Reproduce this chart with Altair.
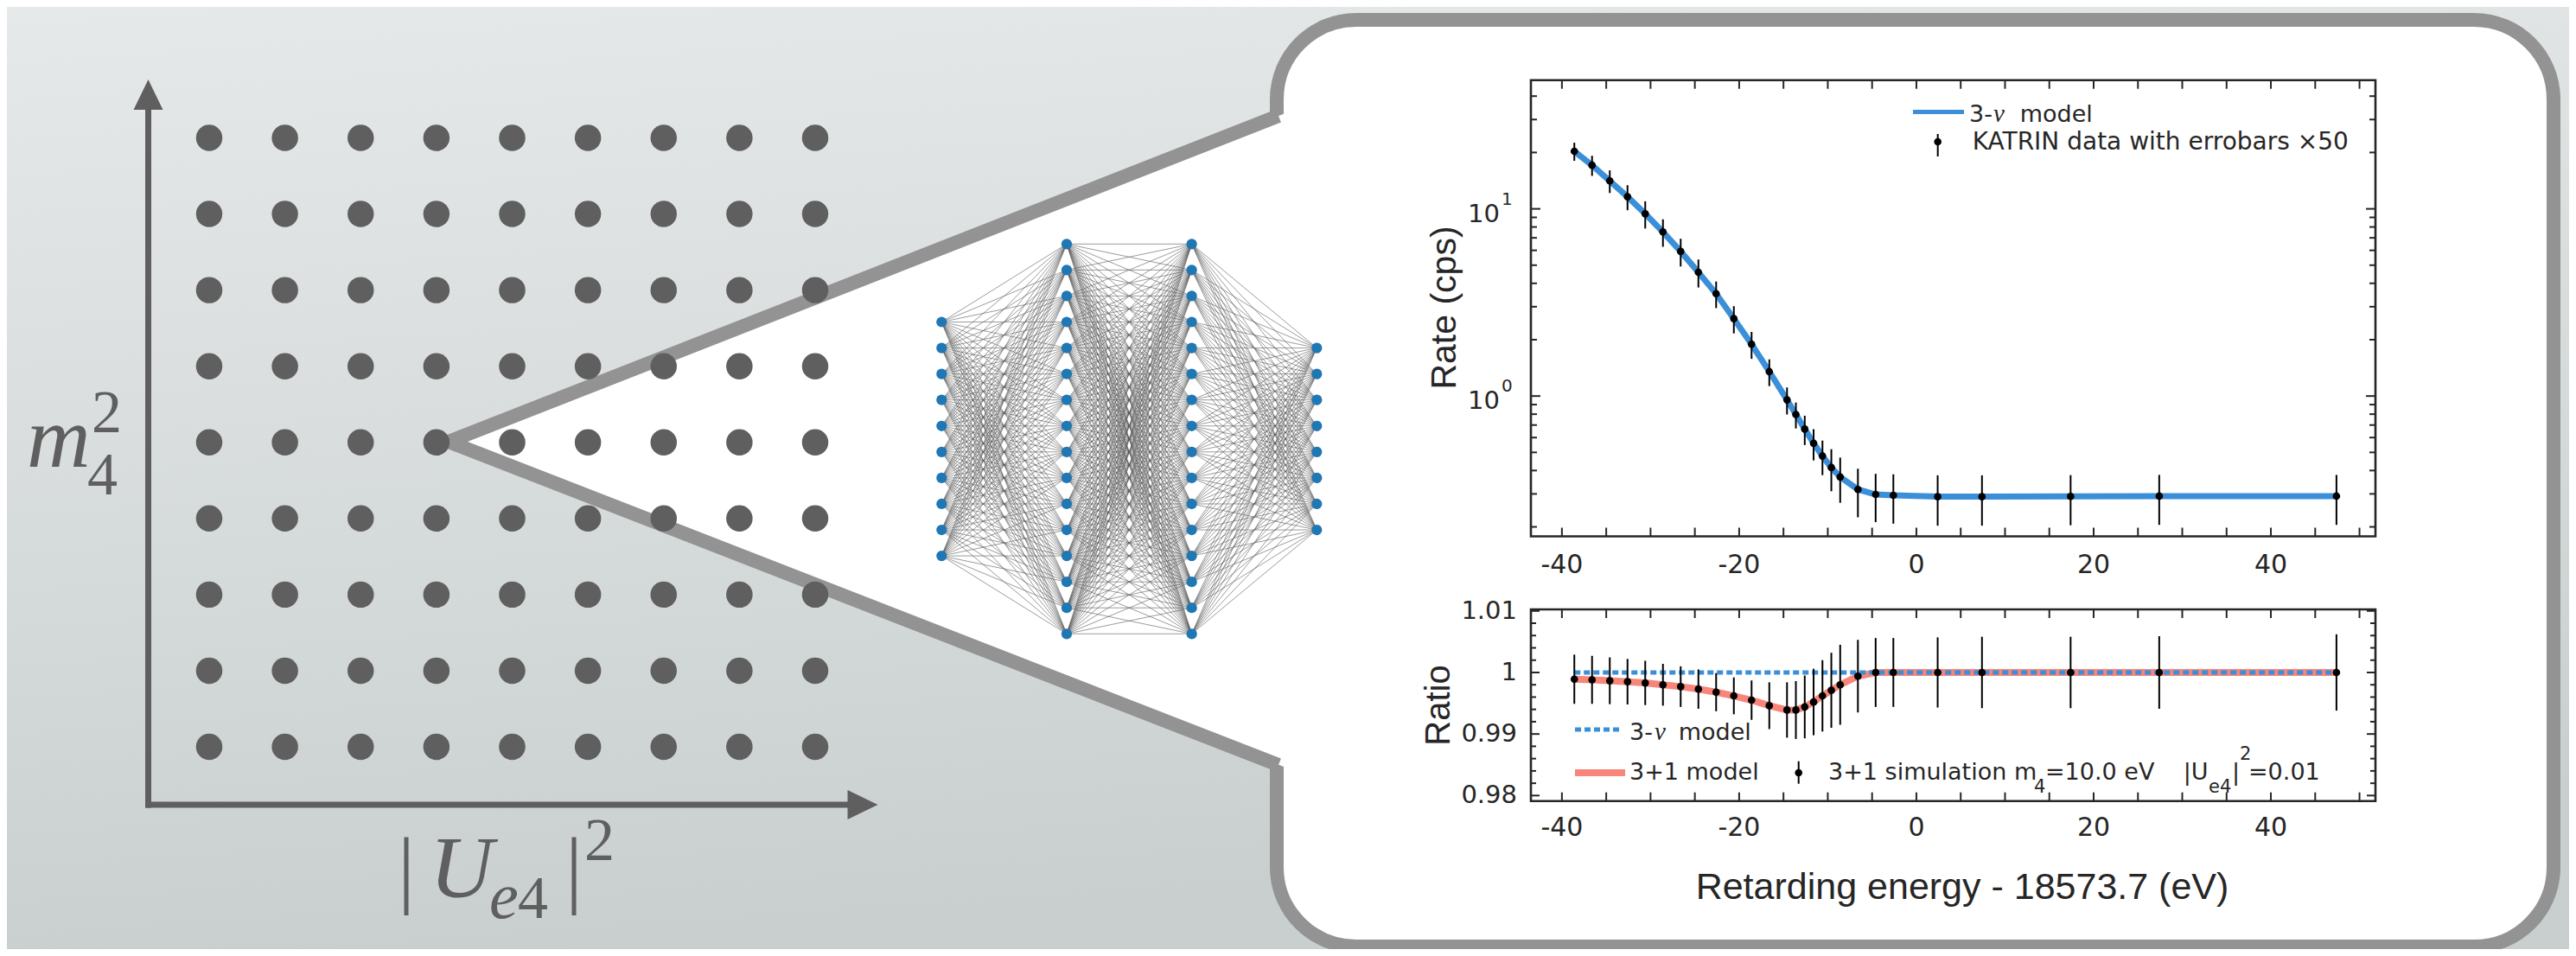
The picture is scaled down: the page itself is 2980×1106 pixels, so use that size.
import altair as alt
import pandas as pd

W, H = 2964, 1090
M = 8

def px(v):
    return v - M

# ---------------- data ----------------
energy = [-38.6, -36.6, -34.6, -32.6, -30.6, -28.6, -26.6, -24.6, -22.6, -20.6,
          -18.6, -16.6, -14.6, -13.6, -12.6, -11.6, -10.6, -9.6, -8.6, -6.6,
          -4.6, -2.6, 2.4, 7.4, 17.4, 27.4, 47.4]
rate = [20.3, 17.1, 14.1, 11.6, 9.41, 7.53, 5.92, 4.58, 3.52, 2.59,
        1.89, 1.35, 0.954, 0.797, 0.666, 0.559, 0.478, 0.415, 0.369, 0.317,
        0.298, 0.295, 0.290, 0.290, 0.291, 0.292, 0.292]
rate_err = [2.25, 2.1, 1.95, 1.77, 1.56, 1.26, 1.0, 0.78, 0.57, 0.43,
            0.31, 0.22, 0.157, 0.126, 0.119, 0.106, 0.100, 0.105, 0.100, 0.092,
            0.086, 0.087, 0.087, 0.087, 0.087, 0.087, 0.087]
model_3nu = [20.3, 17.1, 14.1, 11.6, 9.41, 7.53, 5.92, 4.58, 3.52, 2.59,
             1.89, 1.35, 0.954, 0.797, 0.666, 0.559, 0.478, 0.415, 0.369, 0.317,
             0.298, 0.295, 0.290, 0.290, 0.291, 0.292, 0.292]
ratio = [0.9989, 0.9988, 0.99865, 0.9985, 0.9983, 0.9980, 0.9977, 0.9973, 0.9968, 0.9962,
         0.9955, 0.9946, 0.9939, 0.9939, 0.9944, 0.9952, 0.9962, 0.9971, 0.9980, 0.9994,
         1.0, 1.0, 1.0, 1.0, 1.0, 1.0, 1.0]
ratio_err = [0.0040, 0.0039, 0.0038, 0.0037, 0.0036, 0.0034, 0.0033, 0.0032, 0.0031, 0.0030,
             0.0032, 0.0038, 0.0045, 0.0047, 0.0051, 0.0054, 0.0058, 0.0061, 0.0065, 0.0059,
             0.0056, 0.0056, 0.0057, 0.0058, 0.0058, 0.0059, 0.0062]
model_31 = [0.9989, 0.9988, 0.99865, 0.9985, 0.9983, 0.9980, 0.9977, 0.9973, 0.9968, 0.9962,
            0.9955, 0.9946, 0.9939, 0.9939, 0.9944, 0.9952, 0.9962, 0.9971, 0.9980, 0.9994,
            1.0, 1.0, 1.0, 1.0, 1.0, 1.0, 1.0]
ratio_null = [1.0] * 27

x_ticks = [-40, -35, -30, -25, -20, -15, -10, -5, 0, 5, 10, 15, 20, 25, 30, 35, 40, 45, 50]
x_labels = [-40, -20, 0, 20, 40]
y_major = [1, 10]
y_minor = [0.2, 0.3, 0.4, 0.5, 0.6, 0.7, 0.8, 0.9, 2, 3, 4, 5, 6, 7, 8, 9, 20, 30, 40]
r_major = [0.98, 0.99, 1.0, 1.01]
r_major_labels = ["0.98", "0.99", "1", "1.01"]
r_minor = [0.982, 0.984, 0.986, 0.988, 0.992, 0.994, 0.996, 0.998,
           1.002, 1.004, 1.006, 1.008]

grid_u = [1, 2, 3, 4, 5, 6, 7, 8, 9]
grid_m = [1, 2, 3, 4, 5, 6, 7, 8, 9]
nn_layers = [10, 16, 16, 8]

# ---------------- scales ----------------
CX = alt.Scale(domain=[0, 2980], range=[-M, 2980 - M], nice=False, zero=False)
CY = alt.Scale(domain=[0, 1106], range=[-M, 1106 - M], nice=False, zero=False)

PL, PR = 1771, 2748
XS = alt.Scale(domain=[-43.5, 51.8], range=[px(PL), px(PR)], nice=False, zero=False)
TT, TB = 92.7, 620.5
YT = alt.Scale(type="log", domain=[0.178, 48.7], range=[px(TB), px(TT)], nice=False)
RT, RB = 705, 926.7
YR = alt.Scale(domain=[0.97911, 1.01025], range=[px(RB), px(RT)], nice=False, zero=False)
GX = alt.Scale(domain=[1, 9], range=[px(242), px(943)], nice=False, zero=False)
GY = alt.Scale(domain=[1, 9], range=[px(864), px(159.5)], nice=False, zero=False)
NX = alt.Scale(domain=[0, 3], range=[px(1089.3), px(1523.3)], nice=False, zero=False)
NY = alt.Scale(domain=[-7.5, 7.5], range=[px(733.3), px(282.3)], nice=False, zero=False)

TXT = "#262626"
GRAYD = "#5f5f5f"
BORDER = "#939393"
BLUE = "#3b8fd8"
SALMON = "#f8857a"


def X(f, s):
    return alt.X(f + ":Q", scale=s, axis=None, title=None)


def Y(f, s):
    return alt.Y(f + ":Q", scale=s, axis=None, title=None, stack=None)


one = pd.DataFrame({"a": [0]})
layers = []

# background
grad = alt.LinearGradient(gradient="linear",
                          stops=[alt.GradientStop(color="#e6e9e9", offset=0),
                                 alt.GradientStop(color="#c9cfcf", offset=1)],
                          x1=0, y1=0, x2=0.2, y2=1)
layers.append(alt.Chart(one).mark_rect(fill=grad).encode(
    x=alt.value(0), x2=alt.value(W), y=alt.value(0), y2=alt.value(H)))

# callout panel
panel = pd.DataFrame({"x0": [1477], "x1": [2954], "y0": [23], "y1": [1095]})
layers.append(alt.Chart(panel).mark_rect(fill="white", stroke=BORDER, strokeWidth=16,
                                         cornerRadius=92).encode(
    x=X("x0", CX), x2="x1:Q", y=Y("y0", CY), y2="y1:Q"))

tri = pd.DataFrame({"x": [517, 1494], "yt": [511, 128.3], "yb": [511, 890.6]})
layers.append(alt.Chart(tri).mark_area(color="white", opacity=1, orient="vertical").encode(
    x=X("x", CX), y=Y("yt", CY), y2="yb:Q"))

diag = pd.DataFrame({"side": ["u", "u", "l", "l"], "o": [0, 1, 0, 1],
                     "x": [519, 1479, 519, 1479], "y": [511, 134, 511, 885]})
layers.append(alt.Chart(diag).mark_line(color=BORDER, strokeWidth=16, strokeCap="butt").encode(
    x=X("x", CX), y=Y("y", CY), detail="side:N", order="o:Q"))

# grid of points
gdf = pd.DataFrame([(u, m) for m in grid_m for u in grid_u], columns=["u", "m"])
layers.append(alt.Chart(gdf).mark_circle(size=930, color=GRAYD, opacity=1).encode(
    x=X("u", GX), y=Y("m", GY)))

# axes arrows
arr_v = pd.DataFrame({"x": [171.5], "y0": [934.5], "y1": [122]})
layers.append(alt.Chart(arr_v).mark_rule(color=GRAYD, strokeWidth=7).encode(
    x=X("x", CX), y=Y("y0", CY), y2="y1:Q"))
arr_h = pd.DataFrame({"x0": [168], "x1": [985], "y": [931]})
layers.append(alt.Chart(arr_h).mark_rule(color=GRAYD, strokeWidth=7).encode(
    x=X("x0", CX), x2="x1:Q", y=Y("y", CY)))
layers.append(alt.Chart(pd.DataFrame({"x": [171.5], "y": [109.5]})).mark_point(
    shape="M0,-1L0.97,1L-0.97,1Z", size=1225, filled=True, color=GRAYD, opacity=1).encode(
    x=X("x", CX), y=Y("y", CY)))
layers.append(alt.Chart(pd.DataFrame({"x": [998], "y": [931]})).mark_point(
    shape="M1,0L-1,0.97L-1,-0.97Z", size=1225, filled=True, color=GRAYD, opacity=1).encode(
    x=X("x", CX), y=Y("y", CY)))


def text_layer(rows, size, font="DejaVu Sans", style="normal", align="left",
               baseline="alphabetic", color=TXT, angle=0, xs=CX, ys=CY):
    df = pd.DataFrame(rows, columns=["x", "y", "t"])
    return alt.Chart(df).mark_text(font=font, fontSize=size, fontStyle=style, align=align,
                                   baseline=baseline, color=color, angle=angle).encode(
        x=X("x", xs), y=Y("y", ys), text="t:N")


# axis labels of the parameter grid
layers.append(text_layer([(31, 540, "m"), (497, 1038, "U")], 102,
                         font="Liberation Serif", style="italic", color=GRAYD))
layers.append(text_layer([(566, 1062, "e")], 76,
                         font="Liberation Serif", style="italic", color=GRAYD))
layers.append(text_layer([(460, 1038, "|"), (654, 1038, "|")], 100,
                         font="Liberation Serif", color=GRAYD))
layers.append(text_layer([(101, 572, "4"), (106, 500, "2"), (599, 1062, "4"), (676, 995, "2")], 70,
                         font="Liberation Serif", color=GRAYD))

# neural network
nodes = []
for li, n in enumerate(nn_layers):
    for k in range(n):
        nodes.append((li, k - (n - 1) / 2))
edges = []
for li in range(len(nn_layers) - 1):
    a = [nd for nd in nodes if nd[0] == li]
    b = [nd for nd in nodes if nd[0] == li + 1]
    for p in a:
        for q in b:
            edges.append((p[0], p[1], q[0], q[1]))
edf = pd.DataFrame(edges, columns=["l0", "k0", "l1", "k1"])
layers.append(alt.Chart(edf).mark_rule(color="#5a5a5a", strokeWidth=1, opacity=0.6).encode(
    x=X("l0", NX), y=Y("k0", NY), x2="l1:Q", y2="k1:Q"))
ndf = pd.DataFrame(nodes, columns=["l", "k"])
layers.append(alt.Chart(ndf).mark_circle(size=150, color="#1f77b4", opacity=1).encode(
    x=X("l", NX), y=Y("k", NY)))

# ---------------- top plot ----------------
dtop = pd.DataFrame({"e": energy, "r": rate, "m": model_3nu,
                     "lo": [r - s for r, s in zip(rate, rate_err)],
                     "hi": [r + s for r, s in zip(rate, rate_err)]})
xt = pd.DataFrame({"t": x_ticks})
layers.append(alt.Chart(xt).mark_rule(color=TXT, strokeWidth=2).encode(
    x=X("t", XS), y=alt.value(px(TT)), y2=alt.value(px(TT) + 10)))
layers.append(alt.Chart(xt).mark_rule(color=TXT, strokeWidth=2).encode(
    x=X("t", XS), y=alt.value(px(TB)), y2=alt.value(px(TB) - 10)))
for vals, ln in ((y_major, 11), (y_minor, 7)):
    d = pd.DataFrame({"t": vals})
    layers.append(alt.Chart(d).mark_rule(color=TXT, strokeWidth=2).encode(
        y=Y("t", YT), x=alt.value(px(PL)), x2=alt.value(px(PL) + ln)))
    layers.append(alt.Chart(d).mark_rule(color=TXT, strokeWidth=2).encode(
        y=Y("t", YT), x=alt.value(px(PR)), x2=alt.value(px(PR) - ln)))
layers.append(alt.Chart(dtop).mark_line(color=BLUE, strokeWidth=7).encode(
    x=X("e", XS), y=Y("m", YT)))
layers.append(alt.Chart(dtop).mark_rule(color="black", strokeWidth=2).encode(
    x=X("e", XS), y=Y("lo", YT), y2="hi:Q"))
layers.append(alt.Chart(dtop).mark_circle(size=75, color="black", opacity=1).encode(
    x=X("e", XS), y=Y("r", YT)))
box_t = pd.DataFrame({"x0": [-43.5], "x1": [51.8], "y0": [0.178], "y1": [48.7]})
layers.append(alt.Chart(box_t).mark_rect(fillOpacity=0, stroke=TXT, strokeWidth=2.6).encode(
    x=X("x0", XS), x2="x1:Q", y=Y("y0", YT), y2="y1:Q"))
xl = pd.DataFrame({"t": x_labels, "s": [str(v) for v in x_labels]})
layers.append(alt.Chart(xl).mark_text(font="DejaVu Sans", fontSize=30, color=TXT,
                                      baseline="middle").encode(
    x=X("t", XS), y=alt.value(px(654)), text="s:N"))
ylab = pd.DataFrame({"t": y_major, "s": ["10", "10"], "p": ["0", "1"]})
layers.append(alt.Chart(ylab).mark_text(font="DejaVu Sans", fontSize=29, color=TXT, align="right",
                                        baseline="middle", dy=6).encode(
    y=Y("t", YT), x=alt.value(px(1735)), text="s:N"))
layers.append(alt.Chart(ylab).mark_text(font="DejaVu Sans", fontSize=20, color=TXT, align="left",
                                        baseline="middle", dy=-11).encode(
    y=Y("t", YT), x=alt.value(px(1737)), text="p:N"))
layers.append(text_layer([(1684, 356, "Rate (cps)")], 41, font="Liberation Sans",
                         align="center", angle=270))

# top legend
layers.append(alt.Chart(pd.DataFrame({"x0": [2213], "x1": [2272], "y": [129.5]})).mark_rule(
    color=BLUE, strokeWidth=5).encode(x=X("x0", CX), x2="x1:Q", y=Y("y", CY)))
layers.append(alt.Chart(pd.DataFrame({"x": [2241.7], "y0": [155], "y1": [181]})).mark_rule(
    color="black", strokeWidth=2).encode(x=X("x", CX), y=Y("y0", CY), y2="y1:Q"))
layers.append(alt.Chart(pd.DataFrame({"x": [2241.7], "y": [164]})).mark_circle(
    size=75, color="black", opacity=1).encode(x=X("x", CX), y=Y("y", CY)))
layers.append(text_layer([(2278, 141, "3-"), (2336.7, 141, "model")], 27))
layers.append(text_layer([(2281.7, 173.3, "KATRIN data with errobars  \u00d750")], 28))
layers.append(text_layer([(2306, 141, "\u03bd")], 29, font="Liberation Serif", style="italic"))

# ---------------- ratio plot ----------------
drat = pd.DataFrame({"e": energy, "r": ratio, "m": model_31, "n": ratio_null,
                     "lo": [r - s for r, s in zip(ratio, ratio_err)],
                     "hi": [r + s for r, s in zip(ratio, ratio_err)]})
layers.append(alt.Chart(xt).mark_rule(color=TXT, strokeWidth=2).encode(
    x=X("t", XS), y=alt.value(px(RT)), y2=alt.value(px(RT) + 10)))
layers.append(alt.Chart(xt).mark_rule(color=TXT, strokeWidth=2).encode(
    x=X("t", XS), y=alt.value(px(RB)), y2=alt.value(px(RB) - 10)))
for vals, ln in ((r_major, 10), (r_minor, 6)):
    d = pd.DataFrame({"t": vals})
    layers.append(alt.Chart(d).mark_rule(color=TXT, strokeWidth=2).encode(
        y=Y("t", YR), x=alt.value(px(PL)), x2=alt.value(px(PL) + ln)))
    layers.append(alt.Chart(d).mark_rule(color=TXT, strokeWidth=2).encode(
        y=Y("t", YR), x=alt.value(px(PR)), x2=alt.value(px(PR) - ln)))
layers.append(alt.Chart(drat).mark_line(color=SALMON, strokeWidth=8).encode(
    x=X("e", XS), y=Y("m", YR)))
layers.append(alt.Chart(drat).mark_line(color=BLUE, strokeWidth=5, strokeDash=[7, 4]).encode(
    x=X("e", XS), y=Y("n", YR)))
layers.append(alt.Chart(drat).mark_rule(color="black", strokeWidth=2).encode(
    x=X("e", XS), y=Y("lo", YR), y2="hi:Q"))
layers.append(alt.Chart(drat).mark_circle(size=75, color="black", opacity=1).encode(
    x=X("e", XS), y=Y("r", YR)))
box_r = pd.DataFrame({"x0": [-43.5], "x1": [51.8], "y0": [0.97911], "y1": [1.01025]})
layers.append(alt.Chart(box_r).mark_rect(fillOpacity=0, stroke=TXT, strokeWidth=2.6).encode(
    x=X("x0", XS), x2="x1:Q", y=Y("y0", YR), y2="y1:Q"))
layers.append(alt.Chart(xl).mark_text(font="DejaVu Sans", fontSize=30, color=TXT,
                                      baseline="middle").encode(
    x=X("t", XS), y=alt.value(px(958)), text="s:N"))
rl = pd.DataFrame({"t": r_major, "s": r_major_labels})
layers.append(alt.Chart(rl).mark_text(font="DejaVu Sans", fontSize=29, color=TXT, align="right",
                                      baseline="middle").encode(
    y=Y("t", YR), x=alt.value(px(1755)), text="s:N"))
layers.append(text_layer([(1677, 816, "Ratio")], 40, font="Liberation Sans",
                         align="center", angle=270))
layers.append(text_layer([(2270, 1040, "Retarding energy - 18573.7 (eV)")], 43,
                         font="Liberation Sans", align="center"))

# ratio legend
layers.append(alt.Chart(pd.DataFrame({"x0": [1822], "x1": [1874], "y": [844]})).mark_rule(
    color=BLUE, strokeWidth=5, strokeDash=[7, 4]).encode(x=X("x0", CX), x2="x1:Q", y=Y("y", CY)))
layers.append(alt.Chart(pd.DataFrame({"x0": [1822], "x1": [1880], "y": [894]})).mark_rule(
    color=SALMON, strokeWidth=8).encode(x=X("x0", CX), x2="x1:Q", y=Y("y", CY)))
layers.append(alt.Chart(pd.DataFrame({"x": [2080.7], "y0": [880.7], "y1": [906.7]})).mark_rule(
    color="black", strokeWidth=2).encode(x=X("x", CX), y=Y("y0", CY), y2="y1:Q"))
layers.append(alt.Chart(pd.DataFrame({"x": [2080.7], "y": [894]})).mark_circle(
    size=75, color="black", opacity=1).encode(x=X("x", CX), y=Y("y", CY)))
layers.append(text_layer([(1885, 856, "3-"), (1941.7, 856, "model"), (1885, 902, "3+1 model"),
                          (2115, 902, "3+1 simulation m"), (2366, 902, "=10.0 eV"),
                          (2525.7, 902, "|U"), (2582, 902, "|"), (2601, 902, "=0.01")], 27))
layers.append(text_layer([(1914, 856, "\u03bd")], 29, font="Liberation Serif", style="italic"))
layers.append(text_layer([(2353, 917, "4"), (2555, 917, "e4"), (2591, 879, "2")], 21))

chart = alt.layer(*layers).resolve_scale(x="independent", y="independent").properties(
    width=W, height=H, padding=0, autosize=alt.AutoSizeParams(type="none"),
    background="#e6e9e9").configure_view(stroke=None)

chart.save("out.html", embed_options={"renderer": "svg", "actions": False})
